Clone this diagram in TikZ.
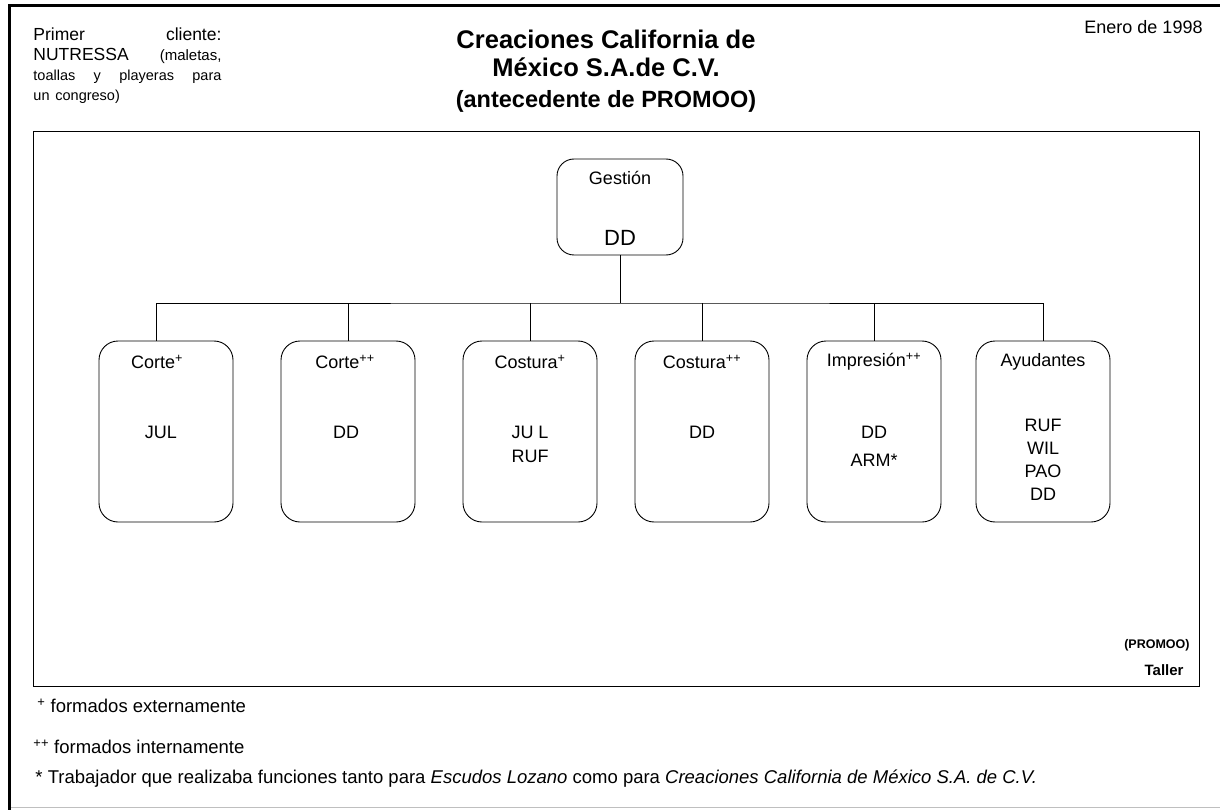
\documentclass[tikz,border=0pt]{standalone}
\usepackage{fontspec}
\setmainfont{Liberation Sans}
\usetikzlibrary{positioning,calc}

\begin{document}
\begin{tikzpicture}[x=1pt,y=-1pt,font=\fontsize{18}{21}\selectfont,line width=0.9pt]
\tikzstyle{area}=[draw,rounded corners=19pt,minimum width=134pt,minimum height=181pt,inner sep=0pt]
\tikzstyle{t}=[inner sep=0pt]
\tikzstyle{n}=[inner sep=0pt,align=center,font=\fontsize{18}{24}\selectfont]
\tikzstyle{nota}=[inner sep=0pt,anchor=west,font=\fontsize{18.5}{22}\selectfont]
\useasboundingbox (0,0) rectangle (1220,810);
% marco de la hoja
\draw[line width=3.5pt] (9.5,810) -- (9.5,5.5) -- (1220,5.5);
\draw[gray!50] (11,807.5) -- (1220,807.5);
% encabezado
\node[t,anchor=north west,text width=188pt,font=\fontsize{17.5}{20}\selectfont] (cliente) at (33,27.5)
  {Primer\hfill cliente:\\ NUTRESSA\hfill{\fontsize{15}{20}\selectfont(maletas,}\\
   {\fontsize{14.5}{20}\selectfont toallas\hfill y\hfill playeras\hfill para\\ un congreso)}};
\node[t,align=center,font=\fontsize{25.5}{28.5}\bfseries] (titulo) at (606,53.5) {Creaciones California de\\ México S.A.de C.V.};
\node[t,font=\fontsize{23.5}{26}\bfseries] (ante) at (606,101) {(antecedente de PROMOO)};
\node[t,anchor=east] (fecha) at (1203,27) {Enero de 1998};
% taller
\node[draw,minimum width=1166pt,minimum height=555pt,anchor=north west] (taller) at (33,131) {};
\node[t,anchor=east,font=\fontsize{12.5}{15}\bfseries] (promoo) at (1190,645) {(PROMOO)};
\node[t,anchor=east,font=\fontsize{15}{18}\bfseries] (tallertxt) at (1184,670) {Taller};
% gestion
\node[area,rounded corners=17pt,minimum width=126pt,minimum height=96pt] (gestion) at (620,207) {};
\node[t] at (620,178) {Gestión};
\node[t,font=\fontsize{22}{26}\selectfont] at (620,238) {DD};
% areas
\node[area] (corteA) at (166,431.5) {};
\node[area] (corteB) at (348,431.5) {};
\node[area] (costA) at (530,431.5) {};
\node[area] (costB) at (702,431.5) {};
\node[area] (impr) at (874,431.5) {};
\node[area] (ayud) at (1043,431.5) {};
\node[t] at (157,362) {Corte\textsuperscript{+}};
\node[t] at (345,362) {Corte\textsuperscript{++}};
\node[t] at (530,362) {Costura\textsuperscript{+}};
\node[t] at (702,362) {Costura\textsuperscript{++}};
\node[t] at (874,362) {Impresión\textsuperscript{++}};
\node[t] at (1043,362) {Ayudantes};
\node[n] at (161,432) {JUL};
\node[n] at (346,432) {DD};
\node[n] at (530,444) {JU L\\RUF};
\node[n] at (702,432) {DD};
\node[n,font=\fontsize{18}{28}\selectfont] at (874,446) {DD\\ARM*};
\node[n,font=\fontsize{18}{23}\selectfont] at (1043,459.5) {RUF\\WIL\\PAO\\DD};
% lineas
\coordinate (bus) at (620,303);
\draw (gestion.south) -- (bus);
\draw ([xshift=-10pt]corteA.north) |- (bus) -| (ayud.north);
\foreach \a in {corteB,costA,costB,impr}
  \draw (bus -| \a.north) -- (\a.north);
% notas
\node[nota] at (37,706) {\textsuperscript{+} formados externamente};
\node[nota] at (33,747) {\textsuperscript{++} formados internamente};
\node[nota] at (35,779) {* Trabajador que realizaba funciones tanto para \textit{Escudos Lozano} como para \textit{Creaciones California de México S.A. de C.V.}};
\end{tikzpicture}
\end{document}
